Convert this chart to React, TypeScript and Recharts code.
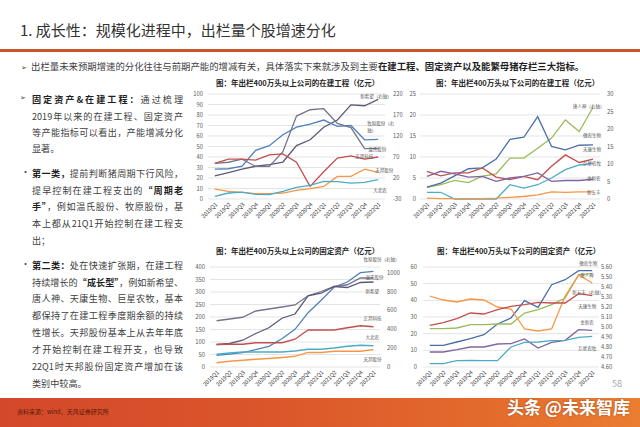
import { LineChart, Line, XAxis, YAxis, CartesianGrid, LabelList } from "recharts";

const FONT = '"Noto Sans CJK SC", "Noto Sans", sans-serif';

const quarters = ["2019Q1", "2019Q2", "2019Q3", "2019Q4", "2020Q1", "2020Q2", "2020Q3", "2020Q4", "2021Q1", "2021Q2", "2021Q3", "2021Q4", "2022Q1"];

// 图1：年出栏400万头以上公司的在建工程（亿元）
const cipBigXinxiwang = [25, 33, 41, 48, 52, 58, 97, 111, 141, 158, 194, 192, 207]; // 右轴
const cipBigMuyuan = [41, 42, 48, 86, 97, 123, 141, 148, 158, 143, 145, 111, 112]; // 右轴
const cipBigWens = [34, 35, 38, 31, 31, 45, 79, 85, 86, 72, 68, 48, 48];
const cipBigZhengbang = [34, 38, 38, 37, 42, 43, 35, 12, 26, 39, 41, 38, 40];
const cipBigTianbang = [9.5, 7.3, 6.3, 5.1, 5.1, 5.7, 8.2, 9.8, 12, 21.5, 21.5, 28.5, 25.3];
const cipBigDabeinong = [2.5, 5.7, 6.6, 4.4, 4.1, 7.3, 11.1, 13, 16.8, 16.5, 15.2, 15.8, 18.4];

// 图2：年出栏400万头以下公司的在建工程（亿元）
const cipSmallTangrenshen = [3.3, 4.1, 5.3, 4.7, 6.5, 7.2, 11.7, 11.7, 14.5, 17.4, 22.6, 19.3, 26.2]; // 右轴
const cipSmallAonong = [2.8, 3.8, 5.5, 7.2, 7.4, 9.5, 14.2, 14.7, 19.6, 12.5, 11.7, 12.8, 12.9];
const cipSmallTiankang = [6.6, 5.5, 6.2, 6.2, 7.4, 5.2, 4.6, 5.4, 4.6, 7.8, 10.5, 8.7, 9.5];
const cipSmallJinxinnong = [5.4, 6.6, 6.0, 5.2, 5.4, 4.2, 5.0, 5.4, 6.2, 4.2, 4.4, 4.4, 4.7];
const cipSmallJuxing = [1.6, 1.6, 0, 0, 0, 0, 3.4, 2.6, 3.4, 5.0, 7.0, 8.1, 8.5];
const cipSmallXinwufeng = [0.2, 0.1, 0.1, 0.1, 0.1, 0.2, 0.4, 0.6, 1.0, 1.7, 1.6, 1.7, 1.7];

// 图3：年出栏400万头以上公司的固定资产（亿元）
const faBigMuyuan = [124, 138, 152, 184, 219, 300, 399, 576, 707, 848, 901, 1000, 1014]; // 右轴
const faBigWens = [185, 192, 199, 224, 232, 240, 248, 285, 302, 322, 329, 356, 356];
const faBigXinxiwang = [90, 94, 107, 134, 157, 195, 212, 285, 295, 322, 318, 338, 340];
const faBigZhengbang = [90, 91, 91, 97, 97, 97, 111, 148, 148, 148, 157, 165, 161];
const faBigDabeinong = [51, 56, 60, 60, 60, 60, 64, 71, 71, 76, 83, 87, 85];
const faBigTianbang = [17, 23, 27, 31, 34, 38, 43, 58, 58, 63, 63, 63, 70];

// 图4：年出栏400万头以下公司的固定资产（亿元）
const faSmallAonong = [13, 13, 15, 17, 19.4, 25.8, 29.4, 39.8, 35.8, 49.4, 52.4, 57.8, 57.8];
const faSmallTangrenshen = [23, 23, 23.4, 25.4, 25.4, 25.8, 25.8, 32.4, 34.4, 37.4, 41.4, 55.4, 56];
const faSmallXinwufeng = [5.31, 5.27, 5.25, 5.28, 5.27, 5.2, 5.18, 4.98, 4.96, 4.98, 5.31, 5.52, 5.44]; // 右轴
const faSmallTiankang = [25, 26.6, 29, 32.4, 31.8, 34.4, 36.4, 37.4, 38.8, 38.4, 38.4, 44, 42.8];
const faSmallJinxinnong = [9, 9, 10.4, 12, 12, 13.8, 14, 16.8, 11.4, 14.8, 16, 22.4, 22];
const faSmallJuxing = [2, 2, 3.8, 4, 3.8, 3.8, 12, 14.8, 15, 15.8, 16, 17.8, 18.4];

// 轴刻度
const ticks0to100 = [0, 10, 20, 30, 40, 50, 60, 70, 80, 90, 100];
const ticksM30to220 = [-30, 20, 70, 120, 170, 220];
const ticks0to25 = [0, 5, 10, 15, 20, 25];
const ticks0to30 = [0, 5, 10, 15, 20, 25, 30];
const ticks0to400 = [0, 50, 100, 150, 200, 250, 300, 350, 400];
const ticks0to1000 = [0, 200, 400, 600, 800, 1000];
const ticks0to60 = [0, 10, 20, 30, 40, 50, 60];
const ticks460to560 = [4.6, 4.7, 4.8, 4.9, 5.0, 5.1, 5.2, 5.3, 5.4, 5.5, 5.6];

const C = {
  blue: "#4f81bd",
  navy: "#4a6ea8",
  red: "#c0504d",
  olive: "#9bbb59",
  purple: "#8064a2",
  teal: "#4bacc6",
  orange: "#f79646",
  slate: "#5d5877",
  gray: "#75748b",
  grid: "#d9d9d9",
  tick: "#595959",
};

type Series = { name: string; data: number[]; color: string; axis: "L" | "R"; dx: number; dy: number };
type AxisCfg = { domain: [number, number]; ticks: number[]; width: number; gap: number; fmt?: (v: number) => string };

// 线末端的系列名（Excel 式数据标签）
function endLabel(s: Series) {
  // eslint-disable-next-line @typescript-eslint/no-explicit-any
  return (props: any) => {
    if (props.index !== quarters.length - 1) return null;
    const vb = props.viewBox || {};
    const x = Number(props.x ?? vb.x) + s.dx;
    const y = Number(props.y ?? vb.y) + s.dy;
    const parts = s.name.split("\n");
    return (
      <text x={x} y={y} fontSize={4.5} fill={C.tick} dominantBaseline="central">
        {parts.map((p, i) => (
          <tspan key={i} x={x} dy={i === 0 ? 0 : 7}>
            {p}
          </tspan>
        ))}
      </text>
    );
  };
}

function QChart(props: {
  plotL: number;
  plotR: number;
  plotT: number;
  plotB: number;
  left: AxisCfg;
  right: AxisCfg;
  series: Series[];
}) {
  const { plotL, plotR, plotT, plotB, left, right, series } = props;
  const mt = 14;
  const xH = 40;
  const x0 = plotL - left.width;
  const y0 = plotT - mt;
  const w = plotR + right.width - x0;
  const h = plotB + xH - y0;
  const pad = (plotR - plotL) / 26;
  const rows = quarters.map((q, i) => {
    const r: Record<string, number | string> = { q };
    series.forEach((s, k) => (r["s" + k] = s.data[i]));
    return r;
  });
  const tick = { fontSize: 5.8, fill: C.tick };
  return (
    <div style={{ position: "absolute", left: x0, top: y0 }}>
      <LineChart width={w} height={h} data={rows} margin={{ top: mt, right: 0, bottom: 0, left: 0 }}>
        <CartesianGrid yAxisId="L" vertical={false} stroke={C.grid} strokeWidth={0.7} />
        <XAxis
          dataKey="q"
          interval={0}
          padding={{ left: pad, right: pad }}
          height={xH}
          tickLine={false}
          axisLine={false}
          tickSize={0}
          tickMargin={3}
          angle={-45}
          textAnchor="end"
          tick={{ fontSize: 5.6, fill: "#404040" }}
        />
        <YAxis
          yAxisId="L"
          width={left.width}
          domain={left.domain}
          ticks={left.ticks}
          interval={0}
          tickLine={false}
          axisLine={false}
          tickSize={left.gap - 2}
          tickMargin={2}
          tick={tick}
          tickFormatter={left.fmt}
        />
        <YAxis
          yAxisId="R"
          orientation="right"
          width={right.width}
          domain={right.domain}
          ticks={right.ticks}
          interval={0}
          tickLine={false}
          axisLine={false}
          tickSize={right.gap - 2}
          tickMargin={2}
          tick={tick}
          tickFormatter={right.fmt}
        />
        {series.map((s, k) => (
          <Line
            key={k}
            yAxisId={s.axis}
            dataKey={"s" + k}
            type="linear"
            stroke={s.color}
            strokeWidth={1.3}
            dot={false}
            isAnimationActive={false}
          >
            <LabelList content={endLabel(s)} />
          </Line>
        ))}
      </LineChart>
    </div>
  );
}

const chartTitle = (text: string, left: number, top: number) => (
  <div
    style={{
      position: "absolute",
      left,
      top: top - 6,
      height: 12,
      lineHeight: "12px",
      fontSize: 7.5,
      fontWeight: 700,
      color: "#262626",
      whiteSpace: "nowrap",
    }}
  >
    {text}
  </div>
);

function TextLine({ y, last, children }: { y: number; last?: boolean; children: React.ReactNode }) {
  return (
    <div
      style={{
        position: "absolute",
        left: 32,
        top: y - 7,
        width: 151,
        height: 14,
        lineHeight: "14px",
        fontSize: 9.1,
        color: "#404040",
        textAlign: "justify",
        textAlignLast: last ? "left" : "justify",
      }}
    >
      {children}
    </div>
  );
}

const B = ({ children }: { children: React.ReactNode }) => <b style={{ color: "#1f1f1f" }}>{children}</b>;

export default function App() {
  return (
    <div style={{ position: "relative", width: 640, height: 427, background: "#fff", overflow: "hidden", fontFamily: FONT }}>
      <style>{"body{margin:0}"}</style>

      {/* 标题 */}
      <div style={{ position: "absolute", left: 20, top: 19, fontSize: 15, lineHeight: "22px", color: "#333", whiteSpace: "nowrap" }}>
        1. 成长性：规模化进程中，出栏量个股增速分化
      </div>
      <div style={{ position: "absolute", left: 0, top: 49, width: 640, height: 3, background: "#c9552b" }} />

      <div style={{ position: "absolute", left: 21, top: 59, fontSize: 9.4, lineHeight: "14px", color: "#404040", whiteSpace: "nowrap" }}>
        <span style={{ fontSize: 7, marginRight: 4 }}>➢</span>
        出栏量未来预期增速的分化往往与前期产能的增减有关，具体落实下来就涉及到主要<B>在建工程、固定资产以及能繁母猪存栏三大指标。</B>
      </div>

      {/* 左侧文字 */}
      <div style={{ position: "absolute", left: 20, top: 92, fontSize: 7, color: "#404040" }}>➢</div>
      <TextLine y={99}>
        <B>固定资产&在建工程：</B>通过梳理
      </TextLine>
      <TextLine y={116}>2019年以来的在建工程、固定资产</TextLine>
      <TextLine y={132}>等产能指标可以看出，产能增减分化</TextLine>
      <TextLine y={148} last>
        显著。
      </TextLine>

      <div style={{ position: "absolute", left: 21, top: 165, fontSize: 9, color: "#404040" }}>•</div>
      <TextLine y={173}>
        <B>第一类，</B>提前判断猪周期下行风险，
      </TextLine>
      <TextLine y={190}>
        提早控制在建工程支出的<B>“周期老</B>
      </TextLine>
      <TextLine y={206}>
        <B>手”</B>，例如温氏股份、牧原股份，基
      </TextLine>
      <TextLine y={223}>本上都从21Q1开始控制在建工程支</TextLine>
      <TextLine y={240} last>
        出；
      </TextLine>

      <div style={{ position: "absolute", left: 21, top: 257, fontSize: 9, color: "#404040" }}>•</div>
      <TextLine y={265}>
        <B>第二类：</B>处在快速扩张期，在建工程
      </TextLine>
      <TextLine y={282}>
        持续增长的<B>“成长型”</B>，例如新希望、
      </TextLine>
      <TextLine y={298}>唐人神、天康生物、巨星农牧，基本</TextLine>
      <TextLine y={315}>都保持了在建工程季度期余额的持续</TextLine>
      <TextLine y={332}>性增长。天邦股份基本上从去年年底</TextLine>
      <TextLine y={349}>才开始控制在建工程开支，也导致</TextLine>
      <TextLine y={366}>22Q1时天邦股份固定资产增加在该</TextLine>
      <TextLine y={383} last>
        类别中较高。
      </TextLine>

      {/* 图表 */}
      {chartTitle("图：年出栏400万头以上公司的在建工程（亿元）", 216, 83)}
      <QChart
        plotL={208}
        plotR={385}
        plotT={94}
        plotB={199}
        left={{ domain: [0, 100], ticks: ticks0to100, width: 40, gap: 5 }}
        right={{ domain: [-30, 220], ticks: ticksM30to220, width: 30, gap: 8 }}
        series={[
          { name: "新希望（右轴）", data: cipBigXinxiwang, color: C.slate, axis: "R", dx: -18, dy: -3 },
          { name: "牧原股份（右\n轴）", data: cipBigMuyuan, color: C.blue, axis: "R", dx: -11, dy: -16 },
          { name: "温氏股份", data: cipBigWens, color: C.gray, axis: "L", dx: -10, dy: 0 },
          { name: "正邦科技", data: cipBigZhengbang, color: C.red, axis: "L", dx: -23, dy: -1 },
          { name: "天邦股份", data: cipBigTianbang, color: C.orange, axis: "L", dx: -3, dy: -2 },
          { name: "大北农", data: cipBigDabeinong, color: C.teal, axis: "L", dx: -5, dy: 10 },
        ]}
      />

      {chartTitle("图：年出栏400万头以下公司的在建工程（亿元）", 436, 83)}
      <QChart
        plotL={420}
        plotR={600}
        plotT={94}
        plotB={199}
        left={{ domain: [0, 25], ticks: ticks0to25, width: 30, gap: 4 }}
        right={{ domain: [0, 30], ticks: ticks0to30, width: 25, gap: 7 }}
        series={[
          { name: "唐人神（右轴）", data: cipSmallTangrenshen, color: C.olive, axis: "R", dx: -20, dy: -1 },
          { name: "傲农生物", data: cipSmallAonong, color: C.navy, axis: "L", dx: -10, dy: -10 },
          { name: "天康生物", data: cipSmallTiankang, color: C.red, axis: "L", dx: -10, dy: -10 },
          { name: "巨星农牧", data: cipSmallJuxing, color: C.teal, axis: "L", dx: -10, dy: 0 },
          { name: "金新农", data: cipSmallJinxinnong, color: C.purple, axis: "L", dx: -6, dy: -1 },
          { name: "新五丰", data: cipSmallXinwufeng, color: C.orange, axis: "L", dx: -6, dy: 0 },
        ]}
      />

      {chartTitle("图：年出栏400万头以上公司的固定资产（亿元）", 216, 251)}
      <QChart
        plotL={210}
        plotR={380}
        plotT={267}
        plotB={367}
        left={{ domain: [0, 400], ticks: ticks0to400, width: 40, gap: 5 }}
        right={{ domain: [0, 1060], ticks: ticks0to1000, width: 30, gap: 7 }}
        series={[
          { name: "牧原股份（右轴）", data: faBigMuyuan, color: C.blue, axis: "R", dx: -10, dy: -12 },
          { name: "温氏股份", data: faBigWens, color: C.gray, axis: "L", dx: -8, dy: -1 },
          { name: "新希望", data: faBigXinxiwang, color: C.slate, axis: "L", dx: -8, dy: 9 },
          { name: "正邦科技", data: faBigZhengbang, color: C.red, axis: "L", dx: -10, dy: -9 },
          { name: "大北农", data: faBigDabeinong, color: C.teal, axis: "L", dx: -8, dy: -9 },
          { name: "天邦股份", data: faBigTianbang, color: C.orange, axis: "L", dx: -10, dy: 9.5 },
        ]}
      />

      {chartTitle("图：年出栏400万头以下公司的固定资产（亿元）", 437, 251)}
      <QChart
        plotL={423}
        plotR={599}
        plotT={267}
        plotB={367}
        left={{ domain: [0, 60], ticks: ticks0to60, width: 30, gap: 6 }}
        right={{ domain: [4.6, 5.6], ticks: ticks460to560, width: 25, gap: 2, fmt: (v) => v.toFixed(2) }}
        series={[
          { name: "傲农生物", data: faSmallAonong, color: C.navy, axis: "L", dx: -13, dy: -8 },
          { name: "唐人神", data: faSmallTangrenshen, color: C.olive, axis: "L", dx: -12, dy: 1 },
          { name: "新五丰（右轴）", data: faSmallXinwufeng, color: C.orange, axis: "R", dx: -20, dy: 9 },
          { name: "天康生物", data: faSmallTiankang, color: C.red, axis: "L", dx: -14, dy: 10 },
          { name: "金新农", data: faSmallJinxinnong, color: C.purple, axis: "L", dx: -12, dy: -8 },
          { name: "巨星农牧", data: faSmallJuxing, color: C.teal, axis: "L", dx: -14, dy: 12 },
        ]}
      />

      <div style={{ position: "absolute", left: 612, top: 377, fontSize: 9, color: "#a6a6a6" }}>58</div>

      {/* 页脚 */}
      <div
        style={{
          position: "absolute",
          left: 0,
          top: 398,
          width: 640,
          height: 29,
          background: "linear-gradient(90deg, #d3482a 0%, #da552b 40%, #e36a2c 75%, #ea7d32 100%)",
        }}
      />
      <div style={{ position: "absolute", left: 17, top: 407, fontSize: 6, lineHeight: "10px", color: "#5a1a08", whiteSpace: "nowrap" }}>
        资料来源：wind、天风证券研究所
      </div>
      <div
        style={{
          position: "absolute",
          left: 507,
          top: 396,
          fontSize: 17,
          lineHeight: "22px",
          fontWeight: 700,
          color: "#fff",
          whiteSpace: "nowrap",
          textShadow: "0 0 2px rgba(0,0,0,0.35)",
        }}
      >
        头条 @未来智库
      </div>
    </div>
  );
}
